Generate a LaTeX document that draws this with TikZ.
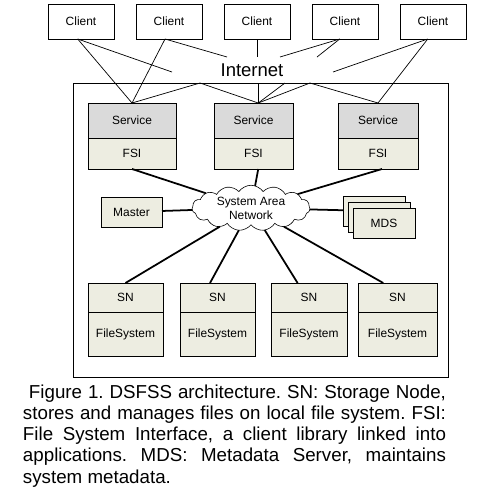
\documentclass[tikz,border=0pt]{standalone}
\usepackage{fontspec}
\setmainfont{Liberation Sans}
\usetikzlibrary{calc,shapes.symbols}
\definecolor{svcgray}{RGB}{218,218,218}
\definecolor{fsibeige}{RGB}{237,237,225}

\begin{document}
\begin{tikzpicture}[every node/.style={outer sep=0pt,font=\fontsize{10.2}{12}\selectfont}]
\tikzstyle{client}=[draw,line width=0.8pt,minimum width=1.98cm,minimum height=1.05cm,inner sep=0pt]
\tikzstyle{service}=[draw,line width=0.6pt,fill=svcgray,minimum height=1.05cm,inner sep=0pt]
\tikzstyle{fsi}=[draw,line width=0.6pt,fill=fsibeige,minimum height=0.93cm,inner sep=0pt,anchor=north]
\tikzstyle{box}=[draw,line width=0.6pt,fill=fsibeige,minimum width=1.86cm,minimum height=0.9cm,inner sep=0pt]
\tikzstyle{sn}=[draw,line width=0.6pt,fill=fsibeige,minimum height=0.87cm,inner sep=0pt,anchor=north]
\tikzstyle{fs}=[draw,line width=0.6pt,fill=fsibeige,minimum height=1.32cm,inner sep=0pt,anchor=north]
\tikzstyle{wire}=[line width=0.6pt]
\tikzstyle{link}=[line width=1.5pt]

\useasboundingbox (0,0) rectangle (14.7,-15.03);

% clients and the internet
\node (client3) [client] at (7.71,-0.645) {Client};
\node (client2) [client,xshift=-2.64cm] at (client3) {Client};
\node (client1) [client,xshift=-2.64cm] at (client2) {Client};
\node (client4) [client,xshift=+2.64cm] at (client3) {Client};
\node (client5) [client,xshift=+2.64cm] at (client4) {Client};

\node (internet) [font=\fontsize{15.8}{18}\selectfont] at (7.56,-2.1) {Internet};

\node (dsfss) [draw,line width=0.7pt,minimum width=11.25cm,minimum height=8.82cm] at (7.815,-6.9) {};

% service nodes
\node (service1) [service,minimum width=2.64cm] at (3.96,-3.615) {Service};
\node (fsi1) [fsi,minimum width=2.64cm] at (service1.south) {FSI};
\node (service2) [service,minimum width=2.37cm] at (7.605,-3.615) {Service};
\node (fsi2) [fsi,minimum width=2.37cm] at (service2.south) {FSI};
\node (service3) [service,minimum width=2.4cm] at (11.34,-3.615) {Service};
\node (fsi3) [fsi,minimum width=2.4cm] at (service3.south) {FSI};

\coordinate (netA) at (5.16,-2.16);
\coordinate (netB) at (6.81,-1.71);
\coordinate (netC) at (7.71,-1.71);
\coordinate (netD) at (8.4,-1.71);
\coordinate (netE) at (9.51,-1.71);
\coordinate (netF) at (9.99,-2.16);
\coordinate (s2top) at ($(service2.north west)!0.56!(service2.north east)$);
\coordinate (top1) at (6.0,-2.49);
\coordinate (top2) at (s2top |- dsfss.north);
\coordinate (top3) at (8.55,-2.49);
\coordinate (top4) at (9.3,-2.49);

\draw [wire] ($(client1.south west)!0.45!(client1.south east)$) -- (netA);
\draw [wire] ($(client1.south west)!0.45!(client1.south east)$) -- (service1.north);
\draw [wire] ($(client2.south west)!0.44!(client2.south east)$) -- (service1.north);
\draw [wire] ($(client2.south west)!0.44!(client2.south east)$) -- (netB);
\draw [wire] (client3.south) -- (netC);
\draw [wire] ($(client4.south west)!0.42!(client4.south east)$) -- (netD);
\draw [wire] ($(client4.south west)!0.42!(client4.south east)$) -- (netE);
\draw [wire] ($(client5.south west)!0.42!(client5.south east)$) -- (netF);
\draw [wire] ($(client5.south west)!0.42!(client5.south east)$) -- (service3.north);

\draw [wire] (top1) -- (service1.north);
\draw [wire] (top1) -- (s2top);
\draw [wire] (top2) -- (s2top);
\draw [wire] (top3) -- (s2top);
\draw [wire] (top4) -- (s2top);
\draw [wire] (top4) -- (service3.north);

% system area network
\node (san) [cloud,draw,line width=0.5pt,fill=white,cloud puffs=15,cloud puff arc=110,aspect=2.7,minimum width=3.54cm,minimum height=1.29cm,inner sep=0pt,align=center] at (7.53,-6.24) {System Area\\Network};

\node (master) [box,minimum width=1.83cm] at (3.945,-6.36) {Master};
\node (mds1) [box] at (11.22,-6.33) {};
\node (mds2) [box,xshift=0.15cm,yshift=-0.18cm] at (mds1) {};
\node (mds3) [box,xshift=0.3cm,yshift=-0.36cm] at (mds1) {MDS};

\node (sn1) [sn,minimum width=2.25cm] at (3.765,-8.49) {SN};
\node (fs1) [fs,minimum width=2.25cm] at (sn1.south) {FileSystem};
\node (sn2) [sn,minimum width=2.25cm] at (6.525,-8.49) {SN};
\node (fs2) [fs,minimum width=2.25cm] at (sn2.south) {FileSystem};
\node (sn3) [sn,minimum width=2.28cm] at (9.27,-8.49) {SN};
\node (fs3) [fs,minimum width=2.28cm] at (sn3.south) {FileSystem};
\node (sn4) [sn,minimum width=2.37cm] at (11.925,-8.49) {SN};
\node (fs4) [fs,minimum width=2.37cm] at (sn4.south) {FileSystem};

\draw [link] (fsi1.south) -- (san);
\draw [link] ($(fsi2.south west)!0.56!(fsi2.south east)$) -- (san);
\draw [link] ($(fsi3.south west)!0.55!(fsi3.south east)$) -- (san);
\draw [link] (master) -- (san);
\draw [link] (mds1) -- (san);
\draw [link] (sn1.north) -- (san);
\draw [link] ($(sn2.north west)!0.4!(sn2.north east)$) -- (san);
\draw [link] ($(sn3.north west)!0.35!(sn3.north east)$) -- (san);
\draw [link] ($(sn4.north west)!0.32!(sn4.north east)$) -- (san);

\node (caption) [anchor=north west,text width=12.69cm,align=justify,inner sep=0pt,font=\fontsize{16}{18.1}\selectfont\frenchspacing] at (0.69,-11.54) {\hspace*{0.18cm}Figure 1. DSFSS architecture. SN: Storage Node,\linebreak stores and manages files on local file system. FSI:\linebreak File System Interface, a client library linked into\linebreak applications. MDS: Metadata Server, maintains\linebreak system metadata.};
\end{tikzpicture}
\end{document}
